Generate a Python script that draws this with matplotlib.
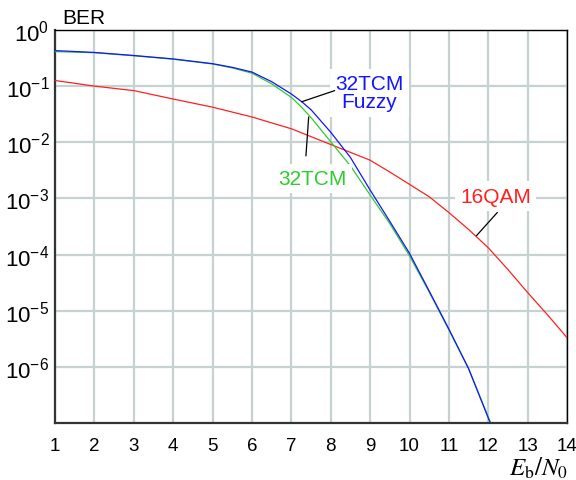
import matplotlib
matplotlib.use("Agg")
import matplotlib.pyplot as plt
from matplotlib.ticker import FixedLocator, NullLocator

plt.rcParams['font.family'] = ['Liberation Sans', 'DejaVu Sans']
plt.rcParams['mathtext.fontset'] = 'custom'
plt.rcParams['mathtext.rm'] = 'Liberation Sans'
plt.rcParams['mathtext.it'] = 'Liberation Sans:italic'

# ---- data ----
x_tcm = [1, 2, 3, 4, 5, 5.5, 6, 6.5, 7, 7.25, 7.5, 8, 8.5, 9, 9.5, 10, 10.5, 11, 11.5, 12.05]
ber_fuzzy = [0.429, 0.398, 0.351, 0.305, 0.251, 0.216, 0.178, 0.120, 0.0724, 0.0537, 0.0380,
             0.0151, 0.00537, 0.00141, 3.9e-4, 1.05e-4, 2.24e-5, 4.7e-6, 9.3e-7, 1.0e-7]
ber_tcm = [0.412, 0.394, 0.347, 0.302, 0.248, 0.211, 0.170, 0.110, 0.0631, 0.0427, 0.0275,
           0.0102, 0.0038, 0.00115, 3.55e-4, 9.5e-5, 2.14e-5, 4.57e-6, 9.3e-7, 1.05e-7]
x_qam = [1, 2, 3, 4, 5, 6, 7, 8, 9, 9.5, 10, 10.5, 11, 11.5, 12, 12.5, 13, 13.5, 14]
ber_qam = [0.126, 0.100, 0.0832, 0.0589, 0.0422, 0.0282, 0.0174, 0.00912, 0.00479, 0.00295,
           0.00178, 0.00107, 5.6e-4, 2.8e-4, 1.32e-4, 5.4e-5, 2.1e-5, 8.5e-6, 3.3e-6]

x_ticks = list(range(1, 15))
y_ticks = [1e0, 1e-1, 1e-2, 1e-3, 1e-4, 1e-5, 1e-6]
y_tick_labels = [r'$\mathregular{10^{0}}$', r'$\mathregular{10^{-1}}$', r'$\mathregular{10^{-2}}$',
                 r'$\mathregular{10^{-3}}$', r'$\mathregular{10^{-4}}$', r'$\mathregular{10^{-5}}$',
                 r'$\mathregular{10^{-6}}$']

BLUE = '#1414ff'
GREEN = '#2ecc2e'
RED = '#ff2020'
GRID = '#c6d2d2'

fig = plt.figure(figsize=(5.76, 4.81), dpi=100)
ax = fig.add_axes([0.0955, 0.1185, 0.889, 0.8171])

ax.set_yscale('log')
ax.set_xlim(1, 14)
ax.set_ylim(1e-7, 1e0)

ax.plot(x_qam, ber_qam, color=RED, lw=0.9, zorder=3)
ax.plot(x_tcm, ber_tcm, color=GREEN, lw=0.9, zorder=3)
ax.plot(x_tcm, ber_fuzzy, color=BLUE, lw=0.9, zorder=3)

ax.xaxis.set_major_locator(FixedLocator(x_ticks))
ax.xaxis.set_minor_locator(NullLocator())
ax.set_xticklabels([str(v) for v in x_ticks])
ax.yaxis.set_major_locator(FixedLocator(y_ticks))
ax.yaxis.set_minor_locator(NullLocator())
ax.set_yticklabels(y_tick_labels)

ax.tick_params(axis='x', length=0, pad=10, labelsize=13.5)
ax.tick_params(axis='y', length=0, pad=4, labelsize=16)

ax.grid(True, which='major', color=GRID, lw=1.6)
ax.set_axisbelow(True)

for side in ['top', 'right']:
    ax.spines[side].set_color('black')
    ax.spines[side].set_linewidth(1.0)
for side in ['left', 'bottom']:
    ax.spines[side].set_color('#333333')
    ax.spines[side].set_linewidth(1.6)

# annotations
box = dict(boxstyle='square,pad=0.25', fc='white', ec='none')
ax.text(8.98, 10**-1.119, '32TCM\nFuzzy', color=BLUE, fontsize=15, ha='center', va='center',
        linespacing=0.95, bbox=box, zorder=4)
ax.annotate('', xy=(7.26, 10**-1.279), xytext=(8.10, 10**-1.08),
            arrowprops=dict(arrowstyle='-', color='black', lw=0.9, shrinkA=0, shrinkB=0), zorder=5)

ax.text(7.54, 10**-2.646, '32TCM', color=GREEN, fontsize=15, ha='center', va='center',
        bbox=box, zorder=4)
ax.annotate('', xy=(7.44, 10**-1.55), xytext=(7.37, 10**-2.243),
            arrowprops=dict(arrowstyle='-', color='black', lw=0.9, shrinkA=0, shrinkB=0), zorder=5)

ax.text(12.18, 10**-2.957, '16QAM', color=RED, fontsize=15, ha='center', va='center',
        bbox=box, zorder=4)
ax.annotate('', xy=(11.70, 10**-3.664), xytext=(12.23, 10**-3.25),
            arrowprops=dict(arrowstyle='-', color='black', lw=0.9, shrinkA=0, shrinkB=0), zorder=5)

fig.text(62 / 576, 1 - 18.5 / 481, 'BER', fontsize=15, ha='left', va='center')
fig.text(568 / 576, 1 - 468 / 481, r'$E_\mathrm{b}/N_0$', fontsize=18, ha='right', va='center',
         math_fontfamily='stix')

fig.savefig('out.png', dpi=100)
